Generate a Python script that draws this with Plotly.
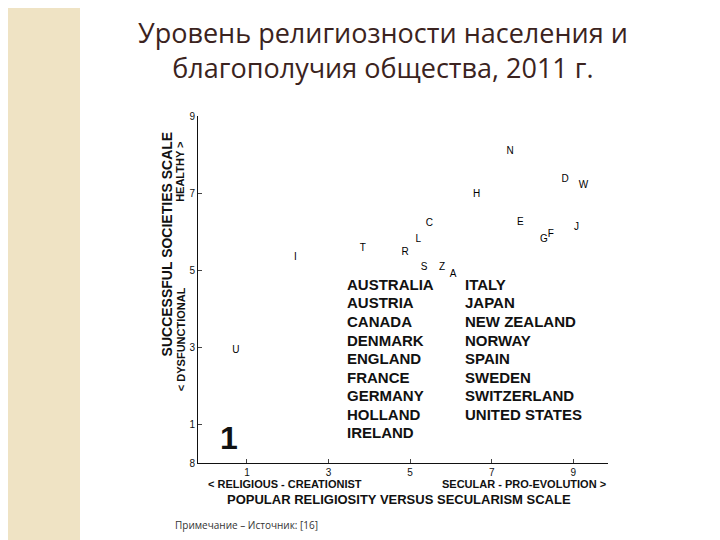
import plotly.graph_objects as go

# ==== Data ====
codes = ["N", "D", "W", "H", "C", "E", "J", "G", "F", "L", "T", "R", "I", "S", "Z", "A", "U"]
secularism = [7.45, 8.8, 9.25, 6.63, 5.47, 7.7, 9.08, 8.28, 8.45, 5.2, 3.84, 4.88, 2.19, 5.34, 5.78, 6.05, 0.73]
health = [8.07, 7.36, 7.2, 6.97, 6.22, 6.25, 6.1, 5.8, 5.93, 5.8, 5.57, 5.47, 5.34, 5.08, 5.08, 4.9, 2.92]
key_left = ["AUSTRALIA", "AUSTRIA", "CANADA", "DENMARK", "ENGLAND", "FRANCE", "GERMANY", "HOLLAND", "IRELAND"]
key_right = ["ITALY", "JAPAN", "NEW ZEALAND", "NORWAY", "SPAIN", "SWEDEN", "SWITZERLAND", "UNITED STATES"]
xticks = [1, 3, 5, 7, 9]
yticks = [0, 1, 3, 5, 7, 9]
ytick_text = ["8", "1", "3", "5", "7", "9"]

fig = go.Figure()
fig.add_trace(go.Scatter(
    x=secularism, y=health, mode="text", text=codes,
    textfont=dict(family="Liberation Sans", size=10, color="#000000"),
    showlegend=False,
))

fig.add_shape(type="rect", xref="paper", yref="paper", x0=-190/410, x1=-118/410, y0=-0.35, y1=1.35,
              fillcolor="#efe3c4", line_width=0, layer="below")

font_key = dict(family="Liberation Sans", size=15, color="#111")
for i, name in enumerate(key_left):
    fig.add_annotation(x=3.4, y=4.63 - i * 0.48, text="<b>" + name + "</b>", showarrow=False,
                       xanchor="left", font=font_key)
for i, name in enumerate(key_right):
    fig.add_annotation(x=6.3, y=4.63 - i * 0.48, text="<b>" + name + "</b>", showarrow=False,
                       xanchor="left", font=font_key)
fig.add_annotation(x=0.55, y=0.65, text="<b>1</b>", showarrow=False, font=dict(family="Liberation Sans", size=32, color="#111"))

fig.update_layout(
    width=720, height=540,
    margin=dict(l=190, r=120, t=108, b=85),
    paper_bgcolor="white", plot_bgcolor="white",
    xaxis=dict(range=[-0.2, 9.85], tickvals=xticks, showgrid=False, zeroline=False,
               showline=True, linecolor="#111", ticks="inside", ticklen=4,
               tickfont=dict(family="Liberation Sans", size=10, color="#111"), title=None),
    yaxis=dict(range=[0, 9], tickvals=yticks, ticktext=ytick_text, showgrid=False, zeroline=False,
               showline=True, linecolor="#111", ticks="inside", ticklen=4,
               tickfont=dict(family="Liberation Sans", size=10, color="#111"), title=None),
    annotations=list(fig.layout.annotations) + [
        dict(xref="paper", yref="paper", x=0.45, y=1.3, text="Уровень религиозности населения и<br>благополучия общества, 2011 г.",
             showarrow=False, font=dict(family="Open Sans", size=27, color="#3b2320")),
        dict(xref="paper", yref="paper", x=-0.1, y=0.63, text="<b>SUCCESSFUL SOCIETIES SCALE</b>", textangle=-90,
             showarrow=False, font=dict(family="Liberation Sans", size=14, color="#111")),
        dict(xref="paper", yref="paper", x=-0.062, y=0.93, text="<b>HEALTHY ></b>", textangle=-90,
             showarrow=False, font=dict(family="Liberation Sans", size=11, color="#111")),
        dict(xref="paper", yref="paper", x=-0.062, y=0.2, text="<b>< DYSFUNCTIONAL</b>", textangle=-90,
             showarrow=False, font=dict(family="Liberation Sans", size=11, color="#111")),
        dict(xref="paper", yref="paper", x=0.02, y=-0.085, xanchor="left", text="<b>< RELIGIOUS - CREATIONIST</b>",
             showarrow=False, font=dict(family="Liberation Sans", size=11, color="#111")),
        dict(xref="paper", yref="paper", x=1.0, y=-0.085, xanchor="right", text="<b>SECULAR - PRO-EVOLUTION ></b>",
             showarrow=False, font=dict(family="Liberation Sans", size=11, color="#111")),
        dict(xref="paper", yref="paper", x=0.49, y=-0.133, text="<b>POPULAR RELIGIOSITY VERSUS SECULARISM SCALE</b>",
             showarrow=False, font=dict(family="Liberation Sans", size=13, color="#111")),
        dict(xref="paper", yref="paper", x=-0.06, y=-0.205, xanchor="left", text="Примечание – Источник: [16]",
             showarrow=False, font=dict(family="Open Sans", size=10, color="#333")),
    ],
)

fig.write_html("out.html")
